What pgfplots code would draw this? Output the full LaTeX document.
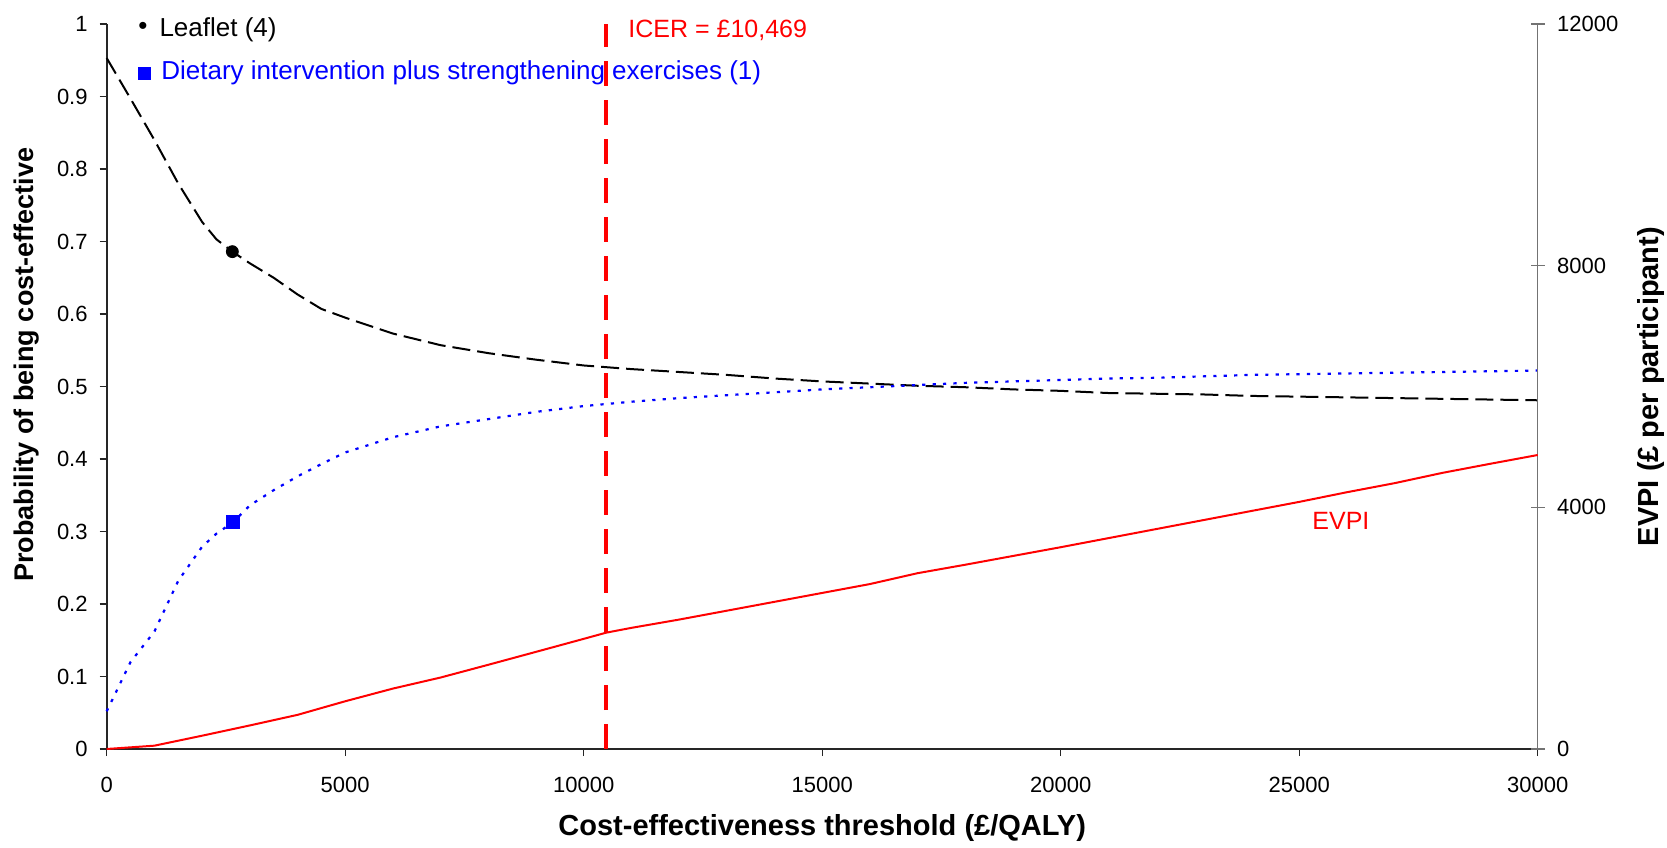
\documentclass[border=0pt]{standalone}
\usepackage{fontspec}
\setmainfont{Liberation Sans}
\usepackage{pgfplots}
\pgfplotsset{compat=1.18}
\usepackage{pgfplotstable}

\pgfplotstableread{
x y
0 0.953
500 0.897
1000 0.840
1500 0.780
2000 0.727
2300 0.703
2634 0.686
3000 0.670
3500 0.650
4000 0.627
4500 0.607
5000 0.595
6000 0.573
7000 0.557
8000 0.546
9000 0.537
10000 0.529
11000 0.524
12000 0.520
13000 0.516
14000 0.511
15000 0.507
16000 0.504
17000 0.501
18000 0.499
19000 0.496
20000 0.494
21000 0.491
22000 0.490
23000 0.489
24000 0.487
25000 0.486
26000 0.485
27000 0.484
28000 0.483
29000 0.482
30000 0.481
}\leaflet

\pgfplotstableread{
x y
0 0.052
500 0.120
1000 0.162
1500 0.232
2000 0.279
2300 0.297
2654 0.313
3000 0.336
3500 0.357
4000 0.376
4500 0.393
5000 0.409
6000 0.430
7000 0.445
8000 0.455
9000 0.465
10000 0.473
11000 0.479
12000 0.484
13000 0.488
14000 0.492
15000 0.496
16000 0.499
17000 0.502
18000 0.505
19000 0.507
20000 0.509
21000 0.511
22000 0.512
23000 0.514
24000 0.516
25000 0.517
26000 0.518
27000 0.519
28000 0.520
29000 0.521
30000 0.522
}\dietary

\pgfplotstableread{
x y
0 0
1000 55
2000 220
3000 390
4000 565
5000 790
6000 1000
7000 1183
8000 1394
9000 1608
10000 1823
10469 1925
11000 2005
12000 2142
13000 2289
14000 2436
15000 2583
16000 2730
17000 2910
18000 3050
19000 3195
20000 3340
21000 3490
22000 3640
23000 3790
24000 3940
25000 4090
26000 4250
27000 4400
28000 4570
29000 4720
30000 4866
}\evpi

\begin{document}
\begin{tikzpicture}
\useasboundingbox (0,0) rectangle (833.5pt,423.5pt);
\begin{axis}[
  at={(53.35pt,49pt)}, anchor=south west,
  scale only axis, width=715.5pt, height=362.5pt,
  xmin=0, xmax=30000, ymin=0, ymax=1,
  axis x line*=bottom, axis y line*=left,
  axis line style={black!85, line width=0.8pt},
  xtick={0,5000,10000,15000,20000,25000,30000},
  ytick={0,0.1,0.2,0.3,0.4,0.5,0.6,0.7,0.8,0.9,1},
  scaled x ticks=false, scaled y ticks=false,
  tick align=outside, major tick length=3.5pt,
  tick style={black!85, line width=0.6pt},
  /pgf/number format/assume math mode=true,
  /pgf/number format/set thousands separator={},
  yticklabel style={/pgf/number format/fixed},
  ticklabel style={font=\fontsize{11}{13}\selectfont},
  xticklabel style={anchor=north, inner sep=0pt, yshift=-10.5pt},
  yticklabel style={anchor=east, inner sep=0pt, xshift=-5.85pt},
  xlabel={Cost-effectiveness threshold (£/QALY)},
  xlabel style={at={(axis description cs:0.5,-0.11862)}, anchor=base, font=\bfseries\fontsize{14.5}{16}\selectfont},
  ylabel={Probability of being cost-effective},
  ylabel style={at={(axis description cs:-0.0515,0.53)}, anchor=base, rotate=0, font=\bfseries\fontsize{13.5}{15}\selectfont},
  clip=false,
]
\addplot[black, line width=1pt, dash pattern=on 9pt off 3.5pt] table {\leaflet};
\addplot[blue, line width=1.1pt, dash pattern=on 1.6pt off 3.6pt] table {\dietary};
\addplot[black, only marks, mark=*, mark size=3pt] coordinates {(2634,0.686)};
\addplot[blue, only marks, mark=square*, mark size=3.25pt] coordinates {(2654,0.3135)};
\addplot[red, line width=2pt, dash pattern=on 12.5pt off 7pt] coordinates {(10469,0) (10469,1)};
\end{axis}
\begin{axis}[
  at={(53.35pt,49pt)}, anchor=south west,
  scale only axis, width=715.5pt, height=362.5pt,
  xmin=0, xmax=30000, ymin=0, ymax=12000,
  axis y line*=right, axis x line=none,
  y axis line style={black!55, line width=0.6pt},
  ytick={0,4000,8000,12000},
  scaled y ticks=false,
  tick align=center, major tick length=7pt,
  ytick style={black!55, line width=0.6pt},
  /pgf/number format/assume math mode=true,
  /pgf/number format/set thousands separator={},
  ticklabel style={font=\fontsize{11}{13}\selectfont},
  yticklabel style={anchor=west, inner sep=0pt, xshift=6pt},
  ylabel={EVPI (£ per participant)},
  ylabel style={at={(axis description cs:1.08407,0.5)}, anchor=base, rotate=0, font=\bfseries\fontsize{14.5}{16}\selectfont},
  clip=false,
]
\addplot[red, line width=1pt] table {\evpi};
\end{axis}
\node[anchor=base west, text=red, inner sep=0pt, font=\fontsize{12.5}{14}\selectfont] at (314pt,404.5pt) {ICER = £10,469};
\node[anchor=base west, text=red, inner sep=0pt, font=\fontsize{12.5}{14}\selectfont] at (656pt,158.5pt) {EVPI};
\node[anchor=base west, inner sep=0pt, font=\fontsize{13}{15}\selectfont] at (69pt,405pt) {\raisebox{1.2pt}{•}\hspace{6pt}Leaflet (4)};
\node[anchor=base west, text=blue, inner sep=0pt, font=\fontsize{13}{15}\selectfont] at (69pt,383.5pt) {\rule{6.5pt}{6.5pt}\hspace{5pt}Dietary intervention plus strengthening exercises (1)};
\end{tikzpicture}
\end{document}
